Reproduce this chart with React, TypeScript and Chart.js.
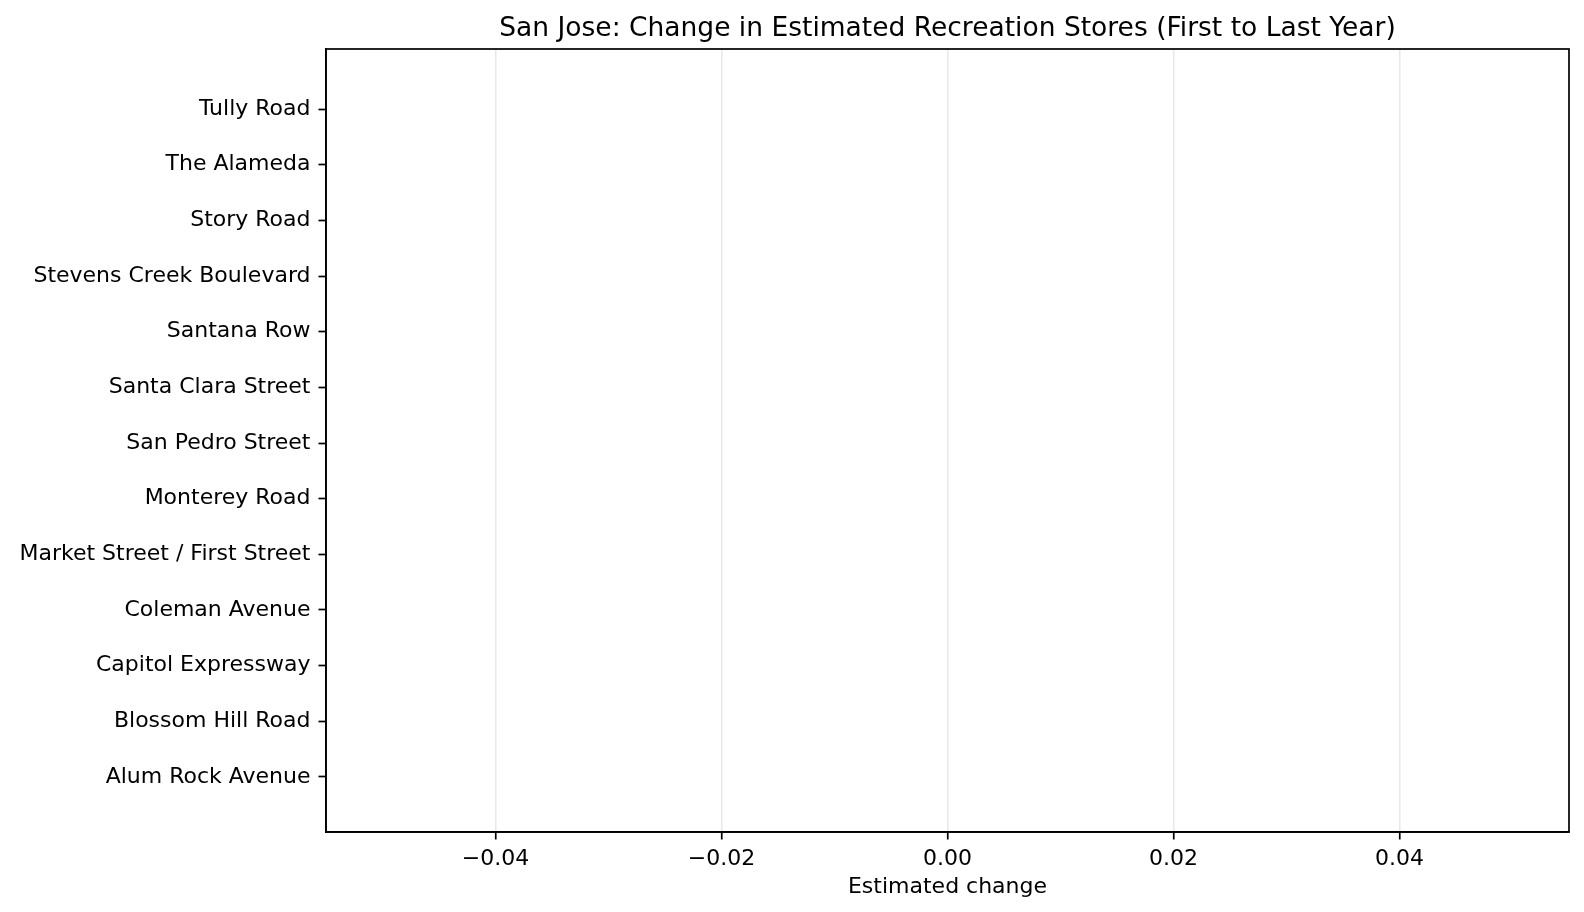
import { useEffect, useRef } from "react";
import { Chart, registerables } from "chart.js";

Chart.register(...registerables);

// Streets, listed bottom to top as in the reference
const streets = [
  "Alum Rock Avenue",
  "Blossom Hill Road",
  "Capitol Expressway",
  "Coleman Avenue",
  "Market Street / First Street",
  "Monterey Road",
  "San Pedro Street",
  "Santa Clara Street",
  "Santana Row",
  "Stevens Creek Boulevard",
  "Story Road",
  "The Alameda",
  "Tully Road",
];
const changes = [0, 0, 0, 0, 0, 0, 0, 0, 0, 0, 0, 0, 0];
const xTicks = [-0.04, -0.02, 0, 0.02, 0.04];
const titleText = "San Jose: Change in Estimated Recreation Stores (First to Last Year)";

const FONT = "'DejaVu Sans', sans-serif";

// box around the plot area + title centred over it (matplotlib style)
const frame = {
  id: "frame",
  afterDraw(chart: Chart) {
    const { ctx, chartArea } = chart;
    ctx.save();
    ctx.strokeStyle = "#000";
    ctx.lineWidth = 1.7;
    ctx.strokeRect(
      chartArea.left,
      chartArea.top,
      chartArea.right - chartArea.left,
      chartArea.bottom - chartArea.top
    );
    ctx.fillStyle = "#000";
    ctx.font = `26.5px ${FONT}`;
    ctx.textAlign = "center";
    ctx.textBaseline = "alphabetic";
    ctx.fillText(titleText, (chartArea.left + chartArea.right) / 2, 36);
    ctx.restore();
  },
};

export default function App() {
  const chartRef = useRef<HTMLCanvasElement>(null);
  const chartInstance = useRef<Chart | null>(null);

  useEffect(() => {
    document.body.style.margin = "0";
    document.documentElement.style.overflow = "hidden";
    if (chartInstance.current) {
      chartInstance.current.destroy();
    }
    const ctx = chartRef.current?.getContext("2d");
    if (!ctx) return;

    chartInstance.current = new Chart(ctx, {
      type: "bar",
      data: {
        datasets: [
          {
            label: "Estimated change",
            data: changes.map((v, i) => ({ x: v, y: i })),
            backgroundColor: "#1f77b4",
            borderWidth: 0,
            barPercentage: 0.8,
            categoryPercentage: 1,
          },
        ],
      },
      options: {
        indexAxis: "y",
        animation: false,
        responsive: true,
        maintainAspectRatio: false,
        layout: { padding: { top: 49, left: 0, right: 15, bottom: 0 } },
        plugins: {
          legend: { display: false },
          tooltip: { enabled: false },
          title: { display: false },
        },
        scales: {
          x: {
            type: "linear",
            min: -0.055,
            max: 0.055,
            afterBuildTicks: (scale: any) => {
              scale.ticks = xTicks.map((v) => ({ value: v }));
            },
            afterFit: (scale: any) => {
              scale.height = 80;
            },
            ticks: {
              color: "#000",
              font: { family: FONT, size: 22 },
              padding: 7,
              maxRotation: 0,
              callback: (value: any) => {
                const n = Number(value);
                const s = Math.abs(n).toFixed(2);
                return n < 0 ? "\u2212" + s : s;
              },
            },
            grid: {
              color: "#e8e8e8",
              lineWidth: 1.5,
              tickColor: "#000",
              tickLength: 7.5,
              tickWidth: 1.7,
            },
            border: { display: true, color: "#000", width: 1.7 },
            title: {
              display: true,
              text: "Estimated change",
              color: "#000",
              font: { family: FONT, size: 22 },
              padding: { top: 0, bottom: 12 },
            },
          },
          y: {
            type: "linear",
            min: -0.99,
            max: 13.08,
            offset: false,
            afterBuildTicks: (scale: any) => {
              scale.ticks = streets.map((_, i) => ({ value: i }));
            },
            afterFit: (scale: any) => {
              scale.width = 326;
            },
            ticks: {
              color: "#000",
              font: { family: FONT, size: 22 },
              padding: 8,
              autoSkip: false,
              callback: (value: any) => streets[Number(value)] ?? "",
            },
            grid: {
              offset: false,
              drawOnChartArea: false,
              tickColor: "#000",
              tickLength: 7.5,
              tickWidth: 1.7,
            },
            border: { display: true, color: "#000", width: 1.7 },
          },
        },
      },
      plugins: [frame],
    });

    return () => {
      if (chartInstance.current) {
        chartInstance.current.destroy();
        chartInstance.current = null;
      }
    };
  }, []);

  return (
    <div style={{ width: 1584, height: 912, position: "relative", background: "#fff" }}>
      <canvas ref={chartRef} />
    </div>
  );
}
